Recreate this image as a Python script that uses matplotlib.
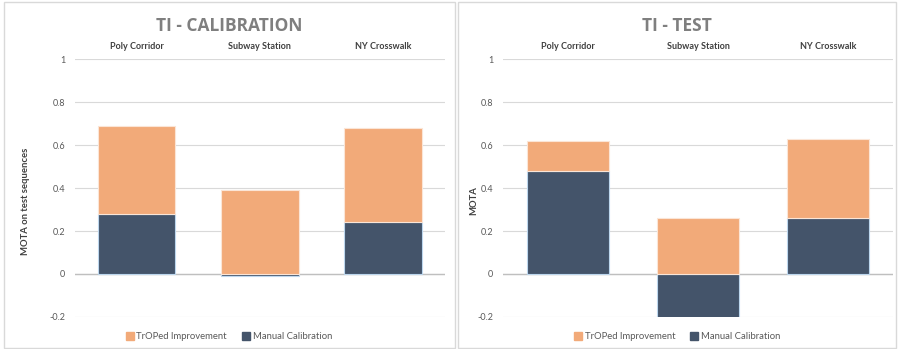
import matplotlib
matplotlib.use('Agg')
import numpy as np
import matplotlib.pyplot as plt
from matplotlib.patches import Rectangle

plt.rcParams['font.family'] = ['Lato', 'DejaVu Sans']

categories = ['Poly Corridor', 'Subway Station', 'NY Crosswalk']
calib_manual = [0.28, -0.01, 0.24]
calib_improvement = [0.41, 0.39, 0.44]
test_manual = [0.48, -0.25, 0.26]
test_improvement = [0.14, 0.26, 0.37]
yticks = [-0.2, 0, 0.2, 0.4, 0.6, 0.8, 1]
ytick_labels = ['-0.2', '0', '0.2', '0.4', '0.6', '0.8', '1']

ORANGE = '#F2AA79'
NAVY = '#44546A'
GRID = '#D9D9D9'
TXT = '#595959'


def stacked_base(manual):
  # Excel stacks positives from zero separately from negatives
  return [m if m > 0 else 0 for m in manual]


def _plot_panel(axis, manual, improvement, title, ylabel, ylabel_x, center_x, fig):
  x = np.arange(len(categories))
  axis.bar(x, manual, width=0.63, color=NAVY, edgecolor='#BDD7EE',
           linewidth=0.8, zorder=3)
  axis.bar(x, improvement, width=0.63, bottom=stacked_base(manual),
           color=ORANGE, edgecolor='#FBE5D6', linewidth=0.8, zorder=3)
  axis.set_xlim(-0.5, len(categories) - 0.5)
  axis.set_ylim(-0.2, 1.0)
  axis.set_yticks(yticks)
  axis.set_yticklabels(ytick_labels, fontsize=6.5, color=TXT)
  axis.tick_params(axis='y', length=0, pad=7)
  axis.xaxis.tick_top()
  axis.set_xticks(x)
  axis.set_xticklabels(categories, fontsize=6.5, fontweight='bold', color='#404040')
  axis.tick_params(axis='x', length=0, pad=6)
  axis.grid(axis='y', color=GRID, linewidth=0.8, zorder=0)
  axis.axhline(0, color='#BFBFBF', linewidth=1.0, zorder=2)
  for s in axis.spines.values():
    s.set_visible(False)
  # title and legend are centred on the panel, not on the plot area
  fig.text(center_x, 0.926, title, fontsize=12.5, fontweight='bold',
           color='#7F7F7F', ha='center', va='center', fontfamily='Open Sans')
  pos = axis.get_position()
  fig.text(ylabel_x, pos.y0 + pos.height * 0.45, ylabel, rotation=90,
           fontsize=6.8, fontweight='bold', color='#404040', ha='center', va='center')
  h1 = Rectangle((0, 0), 1, 1, color=ORANGE)
  h2 = Rectangle((0, 0), 1, 1, color=NAVY)
  fig.legend([h1, h2], ['TrOPed Improvement', 'Manual Calibration'],
             loc='center', bbox_to_anchor=(center_x, 0.035),
             ncol=2, frameon=False, fontsize=6.8, handlelength=0.8,
             handleheight=0.8, handletextpad=0.3, columnspacing=1.6,
             labelcolor=TXT)


figure = plt.figure(figsize=(9, 3.49), dpi=100)
ax_left = figure.add_axes([0.0833, 0.0917, 0.411, 0.7392])
ax_right = figure.add_axes([0.5589, 0.0917, 0.4333, 0.7392])

_plot_panel(ax_left, calib_manual, calib_improvement, 'TI - CALIBRATION',
            'MOTA on test sequences', 0.028, 0.2545, figure)
_plot_panel(ax_right, test_manual, test_improvement, 'TI - TEST',
            'MOTA', 0.526, 0.7525, figure)

# panel frames
figure.patches.append(Rectangle((0.004, 0.003), 0.501, 0.99, transform=figure.transFigure,
                                fill=False, edgecolor='#D9D9D9', linewidth=1))
figure.patches.append(Rectangle((0.509, 0.003), 0.487, 0.99, transform=figure.transFigure,
                                fill=False, edgecolor='#D9D9D9', linewidth=1))

figure.savefig('out.png', dpi=100)
plt.close(figure)
